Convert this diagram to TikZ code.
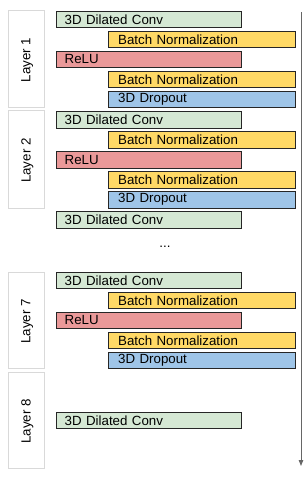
\documentclass[tikz,border=0pt]{standalone}
\usepackage{fontspec}
\setmainfont{Liberation Sans}
\usetikzlibrary{arrows.meta}
\definecolor{convgreen}{HTML}{D5E8D4}
\definecolor{bnyellow}{HTML}{FFD966}
\definecolor{relured}{HTML}{EA9999}
\definecolor{dropblue}{HTML}{9FC5E8}
\definecolor{layergray}{HTML}{D9D9D9}
\definecolor{arrowgray}{HTML}{666666}
\tikzset{
  bar/.style={draw=black!85, line width=0.8pt, minimum height=16.7pt, inner ysep=0pt, inner xsep=8pt,
    anchor=north west, align=left, font=\fontsize{13.3}{15}\selectfont},
  convbar/.style={bar, fill=convgreen, text width=169pt},
  relubar/.style={bar, fill=relured, text width=169pt},
  bnbar/.style={bar, fill=bnyellow, text width=167.4pt, inner xsep=9.5pt},
  dropbar/.style={bar, fill=dropblue, text width=167.4pt, inner xsep=9.5pt},
  layerbox/.style={draw=layergray, line width=1pt, fill=white, minimum width=36pt, anchor=north west, inner sep=0pt},
  layerlabel/.style={rotate=90, font=\fontsize{13.3}{15}\selectfont},
  flow/.style={draw=arrowgray, line width=1pt, -{Triangle[width=4.5pt,length=6pt]}}
}
\begin{document}
\begin{tikzpicture}[x=1pt,y=-1pt]
\useasboundingbox (0,0) rectangle (307,479);
% layer boxes
\node[layerbox, minimum height=96.4pt] (L1) at (8.3,10.3) {};
\node[layerbox, minimum height=97.7pt] (L2) at (8.3,110.3) {};
\node[layerbox, minimum height=96.3pt] (L7) at (8.3,271.7) {};
\node[layerbox, minimum height=96.3pt] (L8) at (8.3,371.7) {};
\node[layerlabel] (t1) at ([xshift=0.5pt,yshift=-1pt]L1.center) {Layer 1};
\node[layerlabel] (t2) at ([xshift=0.5pt,yshift=-1pt]L2.center) {Layer 2};
\node[layerlabel] (t7) at ([xshift=0.5pt,yshift=-1pt]L7.center) {Layer 7};
\node[layerlabel] (t8) at ([xshift=0.5pt,yshift=-1pt]L8.center) {Layer 8};
% layer 1
\node[convbar] (c1) at (56.3,10.7) {3D Dilated Conv};
\node[bnbar] (b1a) at (108.3,30.7) {Batch Normalization};
\node[relubar] (r1) at (56.3,50.7) {ReLU};
\node[bnbar] (b1b) at (108.3,70.7) {Batch Normalization};
\node[dropbar] (d1) at (108.3,90.7) {3D Dropout};
% layer 2
\node[convbar] (c2) at (56.3,110.9) {3D Dilated Conv};
\node[bnbar] (b2a) at (108.3,130.9) {Batch Normalization};
\node[relubar] (r2) at (56.3,150.9) {ReLU};
\node[bnbar] (b2b) at (108.3,170.9) {Batch Normalization};
\node[dropbar] (d2) at (108.3,190.9) {3D Dropout};
\node[convbar] (c3) at (56.3,210.9) {3D Dilated Conv};
\node[font=\fontsize{13.3}{15}\selectfont] (dots) at (165,247) {...};
% layer 7
\node[convbar] (c7) at (56.3,271.7) {3D Dilated Conv};
\node[bnbar] (b7a) at (108.3,291.7) {Batch Normalization};
\node[relubar] (r7) at (56.3,311.7) {ReLU};
\node[bnbar] (b7b) at (108.3,331.7) {Batch Normalization};
\node[dropbar] (d7) at (108.3,351.7) {3D Dropout};
% layer 8
\node[convbar] (c8) at (56.3,411.7) {3D Dilated Conv};
% flow arrow
\coordinate (flowtop) at (301,12);
\coordinate (flowend) at (301,466);
\draw[flow] (flowtop) -- (flowend);
\end{tikzpicture}
\end{document}
